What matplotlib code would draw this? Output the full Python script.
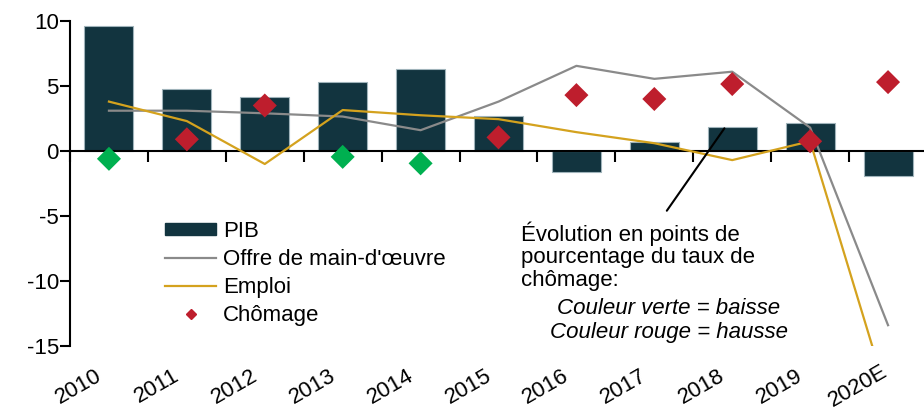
import matplotlib.pyplot as plt
import matplotlib.transforms as mtransforms
from matplotlib.lines import Line2D
from matplotlib.patches import Patch
import numpy as np

plt.rcParams['font.family'] = ['Liberation Sans', 'DejaVu Sans']
plt.rcParams['axes.unicode_minus'] = False

annees = ['2010', '2011', '2012', '2013', '2014', '2015', '2016', '2017', '2018', '2019', '2020E']
pib = [9.6, 4.8, 4.15, 5.3, 6.3, 2.7, -1.6, 0.7, 1.85, 2.15, -1.9]
offre = [3.1, 3.1, 2.9, 2.65, 1.6, 3.8, 6.55, 5.55, 6.1, 1.8, -13.4]
emploi = [3.8, 2.3, -1.0, 3.15, 2.75, 2.45, 1.45, 0.6, -0.7, 0.75, -19.0]
chomage = [-0.6, 0.9, 3.5, -0.45, -0.95, 1.05, 4.3, 4.0, 5.15, 0.75, 5.3]

c_pib = '#12343f'
c_offre = '#8a8a8a'
c_emploi = '#d4a21e'
c_rouge = '#be1e2d'
c_vert = '#00b050'

x = np.arange(len(annees))
fig = plt.figure(figsize=(9.24, 4.13), dpi=100)
ax = fig.add_axes([70/924, 67/413, 857/924, 325/413])

ax.bar(x, pib, width=0.63, color=c_pib, edgecolor='#9fb3ba', linewidth=0.8, zorder=2)
ax.plot(x, offre, color=c_offre, lw=1.6, zorder=3)
ax.plot(x, emploi, color=c_emploi, lw=1.6, zorder=3)
couleurs = np.where(np.array(chomage) < 0, c_vert, c_rouge)
ax.scatter(x, chomage, marker='D', s=150, c=couleurs, linewidths=0, zorder=4)

ax.set_xlim(-0.5, len(annees) - 0.5)
ax.set_ylim(-15, 10)
ax.set_yticks([10, 5, 0, -5, -10, -15])
ax.tick_params(axis='y', labelsize=16, length=7, width=1.5, pad=1)

ax.spines['top'].set_visible(False)
ax.spines['right'].set_visible(False)
ax.spines['left'].set_linewidth(1.5)
ax.spines['bottom'].set_position(('data', 0))
ax.spines['bottom'].set_linewidth(1.5)
ax.set_xticks(np.arange(len(annees) + 1) - 0.5)
ax.set_xticklabels([])
ax.tick_params(axis='x', length=8, width=1.5, direction='out')

trans = mtransforms.blended_transform_factory(ax.transData, ax.transAxes)
for i, lab in enumerate(annees):
    ax.text(i - 0.39, -0.125, lab, transform=trans, fontsize=16, rotation=30,
            ha='center', va='center', rotation_mode='anchor')

handles = [Patch(facecolor=c_pib, edgecolor=c_pib),
           Line2D([], [], color=c_offre, lw=1.6),
           Line2D([], [], color=c_emploi, lw=1.6),
           Line2D([], [], color=c_rouge, marker='D', ms=5, lw=0)]
labels = ['PIB', "Offre de main-d'œuvre", 'Emploi', 'Chômage']
fig.legend(handles, labels, loc='upper left', bbox_to_anchor=(165/924, 1 - 221/413),
           frameon=False, fontsize=16, handlelength=2.3, handleheight=0.45,
           labelspacing=0.32, borderpad=0, borderaxespad=0, handletextpad=0.3)

ax.annotate('', xy=(7.92, 1.92), xytext=(7.14, -4.77),
            arrowprops=dict(arrowstyle='-', color='black', lw=1.5), zorder=5)
fig.text(521/924, 1 - 221/413, "Évolution en points de\npourcentage du taux de\nchômage:",
         fontsize=16, ha='left', va='top', linespacing=1.1)
fig.text(669/924, 1 - 298/413, "Couleur verte = baisse\nCouleur rouge = hausse",
         fontsize=16, ha='center', va='top', style='italic', linespacing=1.16,
         multialignment='center')

plt.savefig('out.png')
